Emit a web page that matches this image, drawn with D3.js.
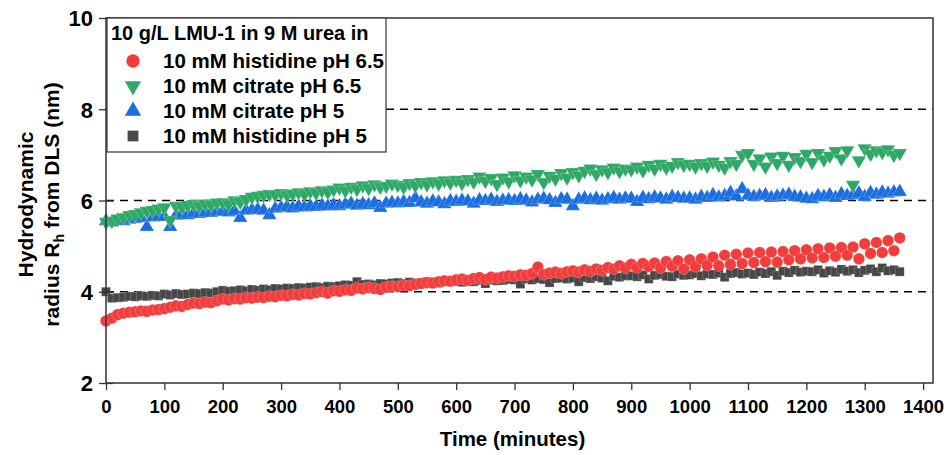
<!DOCTYPE html>
<html>
<head>
<meta charset="utf-8">
<script src="https://cdn.jsdelivr.net/npm/d3@7"></script>
<style>
  body { margin: 0; background: #fff; }
  text { font-family: "Liberation Sans", Arial, sans-serif; font-weight: bold; fill: #000; }
</style>
</head>
<body>
<div id="chart"></div>
<script>
// sample times, minutes (one reading every 10 min)
const time = d3.range(0, 1370, 10);

// 10 mM histidine pH 6.5
const hisPH65 = [
  3.36, 3.42, 3.50, 3.53, 3.55, 3.56, 3.58, 3.57, 3.60, 3.61,
  3.63, 3.66, 3.69, 3.68, 3.72, 3.75, 3.74, 3.77, 3.76, 3.80,
  3.84, 3.82, 3.85, 3.84, 3.87, 3.86, 3.88, 3.87, 3.90, 3.89,
  3.92, 3.91, 3.94, 3.93, 3.96, 3.95, 3.98, 4.00, 3.97, 4.02,
  4.01, 4.04, 4.03, 4.08, 4.06, 4.09, 4.07, 4.05, 4.10, 4.12,
  4.11, 4.14, 4.13, 4.16, 4.18, 4.20, 4.19, 4.22, 4.24, 4.23,
  4.26, 4.28, 4.25, 4.29, 4.31, 4.27, 4.32, 4.30, 4.33, 4.35,
  4.34, 4.37, 4.36, 4.40, 4.54, 4.38, 4.41, 4.43, 4.40, 4.44,
  4.46, 4.43, 4.48, 4.45, 4.50, 4.47, 4.53, 4.50, 4.57, 4.52,
  4.60, 4.53, 4.62, 4.55, 4.63, 4.52, 4.66, 4.56, 4.68, 4.50,
  4.70, 4.55, 4.72, 4.58, 4.76, 4.57, 4.80, 4.60, 4.82, 4.62,
  4.85, 4.64, 4.86, 4.66, 4.87, 4.65, 4.88, 4.70, 4.90, 4.72,
  4.92, 4.74, 4.94, 4.75, 4.96, 4.78, 4.97, 4.80, 4.98, 4.72,
  5.05, 4.84, 5.08, 4.86, 5.12, 4.90, 5.18
];

// 10 mM citrate pH 6.5
const citPH65 = [
  5.53, 5.55, 5.60, 5.63, 5.68, 5.70, 5.74, 5.77, 5.79, 5.82,
  5.85, 5.57, 5.88, 5.86, 5.90, 5.92, 5.88, 5.93, 5.91, 5.95,
  5.96, 5.92, 6.00, 5.97, 6.03, 6.08, 6.10, 6.12, 6.14, 6.13,
  6.16, 6.12, 6.15, 6.18, 6.14, 6.20, 6.17, 6.22, 6.19, 6.24,
  6.28, 6.22, 6.30, 6.25, 6.33, 6.27, 6.35, 6.30, 6.32, 6.37,
  6.34, 6.30, 6.38, 6.33, 6.40, 6.35, 6.42, 6.37, 6.44, 6.39,
  6.45, 6.38, 6.47, 6.41, 6.52, 6.43, 6.49, 6.36, 6.50, 6.42,
  6.55, 6.44, 6.52, 6.46, 6.58, 6.40, 6.54, 6.48, 6.60, 6.50,
  6.62, 6.55, 6.65, 6.70, 6.58, 6.68, 6.62, 6.72, 6.64, 6.70,
  6.68, 6.74, 6.66, 6.78, 6.70, 6.80, 6.72, 6.76, 6.84, 6.78,
  6.80, 6.74, 6.82, 6.76, 6.85, 6.78, 6.72, 6.86, 6.80, 7.00,
  7.04, 6.80, 6.92, 6.74, 6.96, 6.82, 6.98, 6.78, 6.95, 6.86,
  7.02, 6.84, 7.04, 6.90, 6.98, 7.08, 6.92, 7.10, 6.34, 6.88,
  7.14, 7.02, 7.10, 7.06, 7.12, 7.00, 7.04
];

// 10 mM citrate pH 5
const citPH5 = [
  5.55, 5.52, 5.56, 5.55, 5.58, 5.60, 5.62, 5.42, 5.63, 5.65,
  5.64, 5.42, 5.67, 5.70, 5.68, 5.72, 5.71, 5.74, 5.73, 5.75,
  5.76, 5.74, 5.77, 5.62, 5.78, 5.79, 5.80, 5.78, 5.68, 5.82,
  5.84, 5.86, 5.83, 5.87, 5.85, 5.88, 5.86, 5.89, 5.87, 5.90,
  5.88, 5.91, 5.93, 5.89, 5.92, 5.90, 5.94, 5.84, 5.93, 5.95,
  5.94, 5.97, 5.95, 6.05, 5.96, 5.93, 5.98, 5.96, 5.92, 5.99,
  5.97, 6.00, 5.98, 5.93, 6.01, 5.99, 6.02, 5.97, 6.00, 6.01,
  5.99, 6.03, 6.00, 5.96, 6.02, 6.04, 6.01, 5.95, 6.03, 6.02,
  5.88, 6.02, 6.05, 6.01, 6.04, 6.00, 6.03, 6.06, 6.02, 6.05,
  6.04, 5.97, 6.06, 6.03, 6.07, 6.05, 6.02, 6.08, 6.06, 6.04,
  6.05, 6.02, 6.08, 6.06, 6.12, 6.07, 6.10, 6.17, 6.09, 6.25,
  6.11, 6.08, 6.10, 6.12, 6.06, 6.09, 6.11, 6.13, 6.08, 6.07,
  6.04, 6.03, 6.10, 6.08, 6.12, 6.06, 6.14, 6.10, 6.12, 6.16,
  6.08, 6.17, 6.13, 6.18, 6.15, 6.18, 6.19
];

// 10 mM histidine pH 5
const hisPH5 = [
  4.00, 3.86, 3.87, 3.88, 3.90, 3.89, 3.91, 3.90, 3.92, 3.91,
  3.95, 3.93, 3.96, 3.94, 3.95, 3.97, 3.96, 3.98, 3.97, 4.00,
  4.03, 4.01, 4.02, 4.04, 4.02, 4.05, 4.03, 4.06, 4.04, 4.07,
  4.06, 4.08, 4.07, 4.09, 4.08, 4.10, 4.11, 4.09, 4.12, 4.11,
  4.13, 4.15, 4.14, 4.22, 4.16, 4.17, 4.15, 4.18, 4.17, 4.19,
  4.20, 4.18, 4.21, 4.19, 4.20, 4.22, 4.21, 4.19, 4.23, 4.22,
  4.23, 4.21, 4.24, 4.22, 4.25, 4.18, 4.26, 4.24, 4.25, 4.27,
  4.26, 4.17, 4.28, 4.26, 4.29, 4.27, 4.20, 4.29, 4.30, 4.28,
  4.30, 4.22, 4.31, 4.29, 4.33, 4.30, 4.24, 4.34, 4.32, 4.35,
  4.35, 4.33, 4.37, 4.28, 4.36, 4.38, 4.34, 4.33, 4.39, 4.36,
  4.37, 4.40, 4.35, 4.39, 4.38, 4.41, 4.32, 4.40, 4.42, 4.39,
  4.41, 4.38, 4.43, 4.40, 4.44, 4.36, 4.45, 4.42, 4.47, 4.43,
  4.45, 4.44, 4.48, 4.41, 4.46, 4.43, 4.49, 4.45, 4.48, 4.42,
  4.47, 4.50, 4.44, 4.52, 4.46, 4.48, 4.44
];

const legendTitle = "10 g/L LMU-1 in 9 M urea in";
const seriesNames = ["10 mM histidine pH 6.5", "10 mM citrate pH 6.5", "10 mM citrate pH 5", "10 mM histidine pH 5"];
const seriesColors = ["#f23d3d", "#2ea866", "#1b6ee0", "#474747"];
const seriesSymbols = [d3.symbolCircle, d3.symbolTriangle, d3.symbolTriangle, d3.symbolSquare];
const seriesRotate = [0, 180, 0, 0];
const seriesValues = [hisPH65, citPH65, citPH5, hisPH5];
const xTicks = d3.range(0, 1401, 100);
const yTicks = [2, 4, 6, 8, 10];
const refLines = [4, 6, 8];

const W = 950, H = 455;
const margin = {top: 18, right: 17, bottom: 72, left: 106};
const width = W - margin.left - margin.right;
const height = H - margin.top - margin.bottom;

const svg = d3.select("#chart").append("svg")
    .attr("width", W)
    .attr("height", H);

const g = svg.append("g")
    .attr("transform", `translate(${margin.left},${margin.top})`);

const x = d3.scaleLinear().domain([0, 1417]).range([0, width]);
const y = d3.scaleLinear().domain([2, 10]).range([height, 0]);

// dashed reference lines
g.selectAll(".ref").data(refLines).enter().append("line")
    .attr("x1", 0).attr("x2", width)
    .attr("y1", d => y(d)).attr("y2", d => y(d))
    .attr("stroke", "#000")
    .attr("stroke-width", 1.5)
    .attr("stroke-dasharray", "8,6");

// series, drawn back to front
const markSize = [105, 90, 90, 80];
[3, 2, 1, 0].forEach(s => {
    const sym = d3.symbol().type(seriesSymbols[s]).size(markSize[s]);
    const rows = time.map((t, i) => ({t: t, v: seriesValues[s][i]}));
    g.append("g").selectAll("path").data(rows).enter().append("path")
        .attr("d", sym)
        .attr("transform", d => `translate(${x(d.t)},${y(d.v)}) rotate(${seriesRotate[s]})`)
        .attr("fill", seriesColors[s])
        .attr("stroke", "#fff")
        .attr("stroke-opacity", 0.35)
        .attr("stroke-width", 0.6);
});

// frame
g.append("rect")
    .attr("width", width).attr("height", height)
    .attr("fill", "none")
    .attr("stroke", "#333")
    .attr("stroke-width", 1.5);

// x axis: majors every 100, minors at 50
const xAxisG = g.append("g").attr("transform", `translate(0,${height})`);
xAxisG.call(d3.axisBottom(x).tickValues(d3.range(50, 1401, 100)).tickSize(4).tickFormat(""));
xAxisG.call(d3.axisBottom(x).tickValues(xTicks).tickSize(7).tickPadding(6).tickFormat(d3.format("d")));
xAxisG.select(".domain").remove();
xAxisG.selectAll("line").attr("stroke", "#333").attr("stroke-width", 1.3);
xAxisG.selectAll("text").style("font-size", "18.5px").attr("dy", "0.9em");

// y axis: majors cross the axis, minors outward
const yAxisG = g.append("g");
yAxisG.call(d3.axisLeft(y).tickValues([3, 5, 7, 9]).tickSize(4).tickFormat(""));
yAxisG.call(d3.axisLeft(y).tickValues(yTicks).tickSize(7).tickPadding(6));
yAxisG.select(".domain").remove();
yAxisG.selectAll("line").attr("stroke", "#333").attr("stroke-width", 1.3);
yAxisG.selectAll(".tick").filter(d => yTicks.includes(d)).select("line").attr("x2", -7).attr("x1", 7);
yAxisG.selectAll("text").style("font-size", "22px").attr("dy", "0.36em");

// axis titles
svg.append("text")
    .attr("x", margin.left + width / 2 - 7)
    .attr("y", 446)
    .attr("text-anchor", "middle")
    .style("font-size", "20.5px")
    .text("Time (minutes)");

const yTitle = svg.append("text")
    .attr("transform", `translate(33,${margin.top + height / 2 + 4}) rotate(-90)`)
    .attr("text-anchor", "middle")
    .style("font-size", "21px");
yTitle.append("tspan").attr("x", 0).attr("dy", 0).text("Hydrodynamic");
const line2 = yTitle.append("tspan").attr("x", 0).attr("dy", 26);
line2.append("tspan").text("radius R");
line2.append("tspan").attr("dy", 5).style("font-size", "14px").text("h");
line2.append("tspan").attr("dy", -5).text(" from DLS (nm)");

// legend
const legend = g.append("g").attr("transform", "translate(1,0)");
legend.append("rect")
    .attr("width", 279).attr("height", 134)
    .attr("fill", "#fff")
    .attr("stroke", "#333")
    .attr("stroke-width", 1.2);
legend.append("text")
    .attr("x", 4).attr("y", 22)
    .style("font-size", "20px")
    .text(legendTitle);
seriesNames.forEach((name, i) => {
    const cy = 43 + i * 25;
    legend.append("path")
        .attr("d", d3.symbol().type(seriesSymbols[i]).size(i === 0 ? 140 : 115))
        .attr("transform", `translate(26,${cy}) rotate(${seriesRotate[i]})`)
        .attr("fill", seriesColors[i]);
    legend.append("text")
        .attr("x", 56).attr("y", cy + 7)
        .style("font-size", "20.5px")
        .text(name);
});
</script>
</body>
</html>
